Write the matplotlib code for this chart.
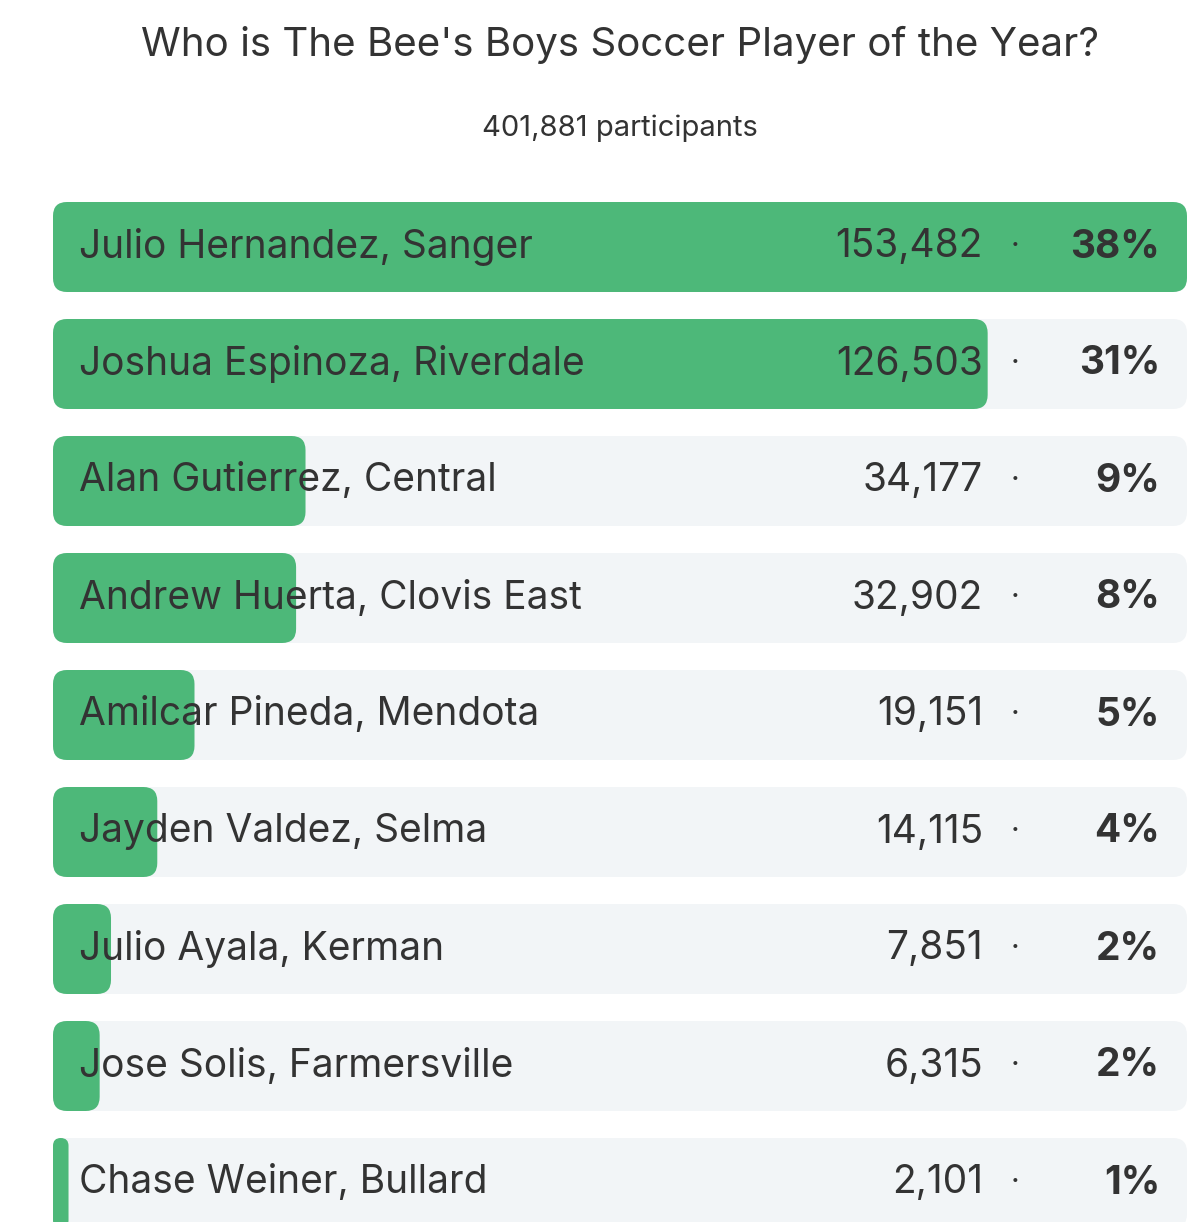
import matplotlib
matplotlib.use("Agg")
import matplotlib.pyplot as plt
from matplotlib.patches import FancyBboxPatch

plt.rcParams['font.family'] = ['Inter', 'DejaVu Sans']

title = "Who is The Bee's Boys Soccer Player of the Year?"
participants = "401,881 participants"
names = ["Julio Hernandez, Sanger", "Joshua Espinoza, Riverdale", "Alan Gutierrez, Central",
         "Andrew Huerta, Clovis East", "Amilcar Pineda, Mendota", "Jayden Valdez, Selma",
         "Julio Ayala, Kerman", "Jose Solis, Farmersville", "Chase Weiner, Bullard"]
votes = [153482, 126503, 34177, 32902, 19151, 14115, 7851, 6315, 2101]
percents = ["38%", "31%", "9%", "8%", "5%", "4%", "2%", "2%", "1%"]

green = "#4db879"
track = "#f2f5f7"
textc = "#333333"

fig = plt.figure(figsize=(12, 12.22), dpi=100)
ax = fig.add_axes([0, 0, 1, 1])
ax.set_xlim(0, 1200)
ax.set_ylim(1222, 0)
ax.axis("off")

x0, x1 = 53, 1187
full = x1 - x0
bar_h = 90
r = 14
top = 247
step = 117

ax.text(620, 45, title, ha="center", va="center", fontsize=29, color=textc)
ax.text(620, 128, participants, ha="center", va="center", fontsize=21, color=textc)

vmax = max(votes)
for i, (n, v, p) in enumerate(zip(names, votes, percents)):
    yc = top + i * step
    ax.add_patch(FancyBboxPatch((x0, yc - bar_h / 2), full, bar_h,
                                boxstyle=f"round,pad=0,rounding_size={r}",
                                fc=track, ec="none"))
    w = full * v / vmax
    rr = min(r, w / 2)
    ax.add_patch(FancyBboxPatch((x0, yc - bar_h / 2), w, bar_h,
                                boxstyle=f"round,pad=0,rounding_size={rr}",
                                fc=green, ec="none"))
    ax.text(79, yc, n, ha="left", va="center", fontsize=28, color=textc)
    ax.text(983, yc, f"{v:,}", ha="right", va="center", fontsize=28, color=textc)
    ax.text(1015, yc, "\u00b7", ha="center", va="center", fontsize=22, color=textc)
    ax.text(1160, yc, p, ha="right", va="center", fontsize=28, color=textc, fontweight="bold")

fig.savefig("out.png", dpi=100)
